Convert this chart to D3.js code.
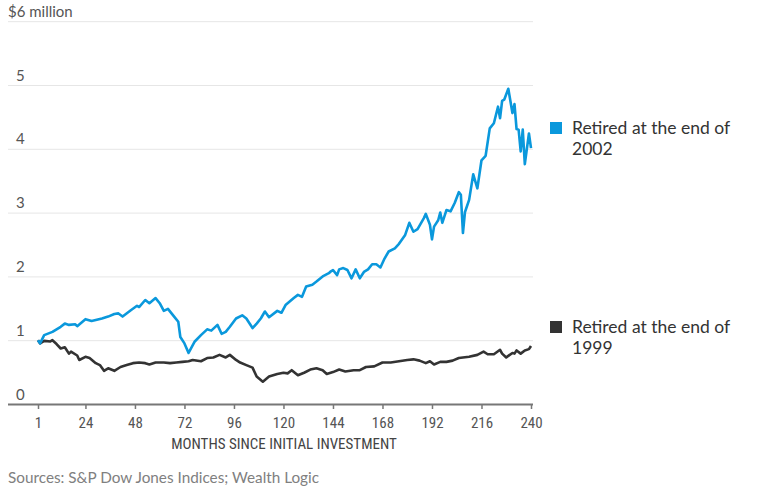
<!DOCTYPE html>
<html>
<head>
<meta charset="utf-8">
<title>retirement balances</title>
<style>
	body { margin: 0; background: #fff; }
	svg { display: block; }
	.tick-lbl { font-family: "Liberation Sans Narrow", "Roboto Condensed", Lato, sans-serif; }
</style>
</head>
<body>
<div class="chart"></div>
<script src="https://cdn.jsdelivr.net/npm/d3@7"></script>
<script>
// values, in $ million, by month since initial investment
let blueMonths = [1, 2, 4, 8, 12, 14, 16, 19, 20, 24, 27, 32, 35, 38, 40, 42, 46, 49, 50, 53, 55, 58, 60, 62, 64, 67, 69, 70, 72, 74,
	77, 80, 83, 85, 88, 90, 92, 94, 97, 100, 102, 105, 107, 109, 111, 113, 117, 119, 121, 125, 127, 129, 131, 134, 136, 139, 142, 143, 144, 146,
	147, 149, 151, 153, 155, 157, 159, 161, 163, 165, 167, 169, 171, 174, 176, 179, 181, 183, 185, 188, 189, 191, 192, 193, 195, 196, 197, 199, 201, 203,
	205, 206, 207, 208, 210, 212, 214, 216, 218, 220, 222, 224, 225, 226, 227, 229, 231, 232, 233, 234, 235, 236, 237, 239, 240];
let blueValues = [1.00, 0.95, 1.08, 1.13, 1.21, 1.26, 1.24, 1.25, 1.22, 1.33, 1.30, 1.34, 1.37, 1.41, 1.42, 1.37, 1.47, 1.54, 1.52, 1.63, 1.58, 1.66, 1.58, 1.46, 1.49, 1.37, 1.29, 1.05, 0.95, 0.80,
	0.98, 1.08, 1.17, 1.15, 1.24, 1.10, 1.13, 1.21, 1.34, 1.39, 1.34, 1.19, 1.26, 1.34, 1.45, 1.36, 1.46, 1.43, 1.55, 1.66, 1.71, 1.68, 1.84, 1.87, 1.92, 2.00, 2.05, 2.08, 2.10, 2.02,
	2.11, 2.13, 2.10, 1.97, 2.11, 1.97, 2.07, 2.11, 2.19, 2.19, 2.14, 2.28, 2.39, 2.44, 2.51, 2.65, 2.84, 2.70, 2.74, 2.91, 2.98, 2.81, 2.58, 2.78, 2.88, 3.00, 2.84, 3.04, 3.02, 3.15,
	3.32, 3.28, 2.68, 3.01, 3.20, 3.60, 3.38, 3.82, 3.89, 4.32, 4.40, 4.66, 4.48, 4.75, 4.77, 4.94, 4.56, 4.70, 4.31, 4.30, 3.96, 4.30, 3.76, 4.24, 4.01];

let blackMonths = [1, 2, 4, 7, 8, 10, 12, 14, 16, 17, 20, 21, 24, 26, 29, 31, 33, 35, 38, 41, 44, 47, 50, 53, 55, 58, 62, 65, 68, 71,
	74, 76, 80, 83, 86, 89, 92, 94, 97, 99, 102, 105, 107, 110, 113, 117, 120, 122, 124, 127, 130, 133, 136, 139, 141, 144, 147, 150, 154, 157,
	160, 164, 168, 172, 176, 180, 183, 186, 189, 191, 193, 196, 199, 202, 205, 210, 214, 217, 219, 222, 225, 226, 228, 231, 232, 233, 235, 237, 239, 240];
let blackValues = [1.00, 0.95, 0.99, 0.98, 1.00, 0.94, 0.87, 0.89, 0.79, 0.82, 0.76, 0.69, 0.74, 0.72, 0.64, 0.61, 0.52, 0.56, 0.52, 0.58, 0.61, 0.64, 0.65, 0.64, 0.62, 0.65, 0.65, 0.64, 0.65, 0.66,
	0.67, 0.69, 0.67, 0.72, 0.73, 0.77, 0.73, 0.77, 0.69, 0.65, 0.61, 0.57, 0.43, 0.35, 0.43, 0.47, 0.49, 0.48, 0.53, 0.45, 0.49, 0.54, 0.56, 0.53, 0.47, 0.50, 0.54, 0.51, 0.53, 0.53,
	0.58, 0.59, 0.65, 0.65, 0.67, 0.69, 0.70, 0.68, 0.64, 0.67, 0.62, 0.66, 0.66, 0.68, 0.72, 0.74, 0.77, 0.82, 0.78, 0.78, 0.85, 0.79, 0.73, 0.80, 0.79, 0.84, 0.79, 0.84, 0.86, 0.91];

let xTicks = [1, 24, 48, 72, 96, 120, 144, 168, 192, 216, 240];
let yTicks = [0, 1, 2, 3, 4, 5, 6];
let seriesNames = ["Retired at the end of 2002", "Retired at the end of 1999"];
let seriesColors = ["#0a98dc", "#333333"];

window.onload = function(){
	showChart();
}

function showChart(){
	let width = 759, height = 498;
	let gridLeft = 8, gridRight = 533;

	let scaleX = d3.scaleLinear().domain([1, 240]).range([38, 531]);
	let scaleY = d3.scaleLinear().domain([0, 6]).range([404, 21.2]);

	let svg = d3.select(".chart").append("svg")
		.attr("width", width)
		.attr("height", height);

	// gridlines + y labels
	let axisY = d3.axisLeft(scaleY)
		.tickValues(yTicks)
		.tickSize(gridRight - gridLeft)
		.tickFormat(d => d == 6 ? "$6 million" : d);
	let gy = svg.append("g")
		.attr("transform", "translate(" + gridRight + ",0)")
		.call(axisY);
	gy.select(".domain").remove();
	gy.selectAll(".tick line")
		.attr("stroke", d => d == 0 ? "#777" : "#e6e6e6")
		.attr("stroke-width", d => d == 0 ? 2 : 1);
	gy.selectAll(".tick text")
		.attr("text-anchor", "start")
		.attr("x", d => d == 6 ? gridLeft - gridRight : 16 - gridRight)
		.attr("dy", 0)
		.attr("y", -5)
		.attr("fill", "#555")
		.style("font-family", "Lato, sans-serif")
		.style("font-size", "15px");

	// x axis
	let axisX = d3.axisBottom(scaleX)
		.tickValues(xTicks)
		.tickSize(5)
		.tickPadding(8);
	let gx = svg.append("g")
		.attr("transform", "translate(0,404)")
		.call(axisX);
	gx.select(".domain").remove();
	gx.selectAll(".tick line").attr("stroke", "#777").attr("stroke-width", 1.5);
	gx.selectAll(".tick text")
		.attr("class", "tick-lbl")
		.attr("fill", "#555")
		.style("font-size", "15px");

	svg.append("text")
		.attr("class", "tick-lbl")
		.attr("x", 284)
		.attr("y", 449)
		.attr("text-anchor", "middle")
		.attr("fill", "#444")
		.style("font-size", "15px")
		.text("MONTHS SINCE INITIAL INVESTMENT");

	// lines
	let line = d3.line()
		.x(d => scaleX(d[0]))
		.y(d => scaleY(d[1]));
	let series = [
		d3.zip(blueMonths, blueValues),
		d3.zip(blackMonths, blackValues)
	];
	svg.selectAll("path.series")
		.data([series[1], series[0]])
		.enter()
		.append("path")
		.attr("class", "series")
		.attr("d", line)
		.attr("fill", "none")
		.attr("stroke", (d, i) => i == 0 ? seriesColors[1] : seriesColors[0])
		.attr("stroke-width", 2.6)
		.attr("stroke-linejoin", "round");

	// legend
	let legendY = [122, 321];
	let lg = svg.selectAll("g.legend")
		.data(seriesNames)
		.enter()
		.append("g")
		.attr("class", "legend")
		.attr("transform", (d, i) => "translate(550," + legendY[i] + ")");
	lg.append("rect")
		.attr("width", 12)
		.attr("height", 12)
		.attr("fill", (d, i) => seriesColors[i]);
	let lt = lg.append("text")
		.attr("fill", "#333")
		.style("font-family", "Lato, sans-serif")
		.style("font-size", "17.5px");
	lt.append("tspan").attr("x", 22).attr("y", 11.5).text(d => d.slice(0, -5));
	lt.append("tspan").attr("x", 22).attr("y", 33).text(d => d.slice(-4));

	// source
	svg.append("text")
		.attr("x", 8)
		.attr("y", 483)
		.attr("fill", "#808080")
		.style("font-family", "Lato, sans-serif")
		.style("font-size", "15.3px")
		.text("Sources: S&P Dow Jones Indices; Wealth Logic");
}
</script>
</body>
</html>
